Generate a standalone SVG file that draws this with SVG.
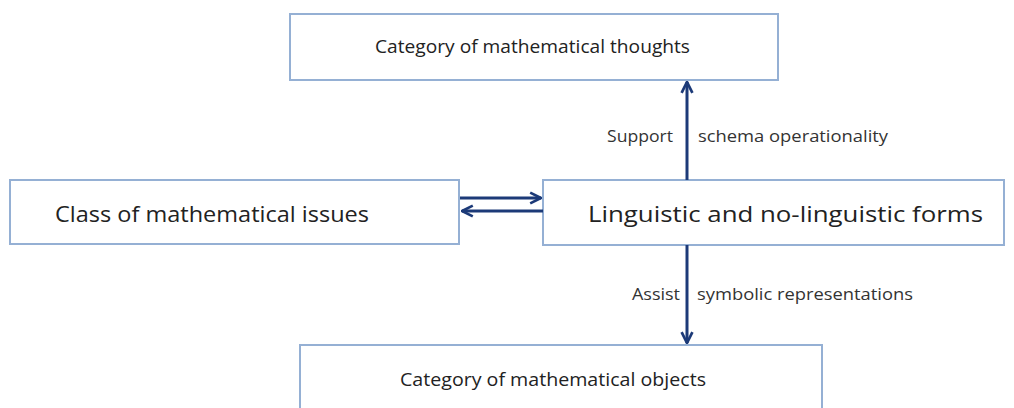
<svg xmlns="http://www.w3.org/2000/svg" width="1014" height="408" viewBox="0 0 1014 408">
<style>
.box{fill:#fff;stroke:#95b0d4;stroke-width:2}
.t{font-family:"Open Sans","Liberation Sans",sans-serif;fill:#222}
.big{font-size:21px}
.mid{font-size:18px}
.sm{font-family:"Open Sans","Liberation Sans",sans-serif;fill:#333;font-size:16px}
.c{stroke:#1c3a78;stroke-width:3;fill:none}
</style>
<defs>
<marker id="ah" viewBox="0 0 10 10" refX="9" refY="5" markerWidth="4.5" markerHeight="4.5" orient="auto" markerUnits="strokeWidth">
<path d="M1,1 L9,5 L1,9" fill="none" stroke="#1c3a78" stroke-width="2"/>
</marker>
</defs>
<rect width="1014" height="408" fill="#fff"/>
<g id="thoughts"><rect class="box" x="290" y="14" width="488" height="66"/><text class="t mid" x="375" y="53" textLength="315" lengthAdjust="spacingAndGlyphs">Category of mathematical thoughts</text></g>
<g id="issues"><rect class="box" x="10" y="180" width="449" height="64"/><text class="t big" x="55" y="222" textLength="314" lengthAdjust="spacingAndGlyphs">Class of mathematical issues</text></g>
<g id="forms"><rect class="box" x="543" y="180" width="461" height="65"/><text class="t big" x="588" y="222" textLength="395" lengthAdjust="spacingAndGlyphs">Linguistic and no-linguistic forms</text></g>
<g id="objects"><rect class="box" x="300" y="345" width="522" height="70"/><text class="t mid" x="400" y="386" textLength="306" lengthAdjust="spacingAndGlyphs">Category of mathematical objects</text></g>
<g id="connectors">
<line class="c" x1="687" y1="180" x2="687" y2="82" marker-end="url(#ah)"/>
<line class="c" x1="687" y1="245" x2="687" y2="343" marker-end="url(#ah)"/>
<line class="c" x1="460" y1="198" x2="541" y2="198" marker-end="url(#ah)"/>
<line class="c" x1="543" y1="211" x2="462" y2="211" marker-end="url(#ah)"/>
<text class="sm" x="607" y="142" textLength="66" lengthAdjust="spacingAndGlyphs">Support</text>
<text class="sm" x="698" y="142" textLength="190" lengthAdjust="spacingAndGlyphs">schema operationality</text>
<text class="sm" x="632" y="300" textLength="48" lengthAdjust="spacingAndGlyphs">Assist</text>
<text class="sm" x="697" y="300" textLength="216" lengthAdjust="spacingAndGlyphs">symbolic representations</text>
</g>
</svg>
